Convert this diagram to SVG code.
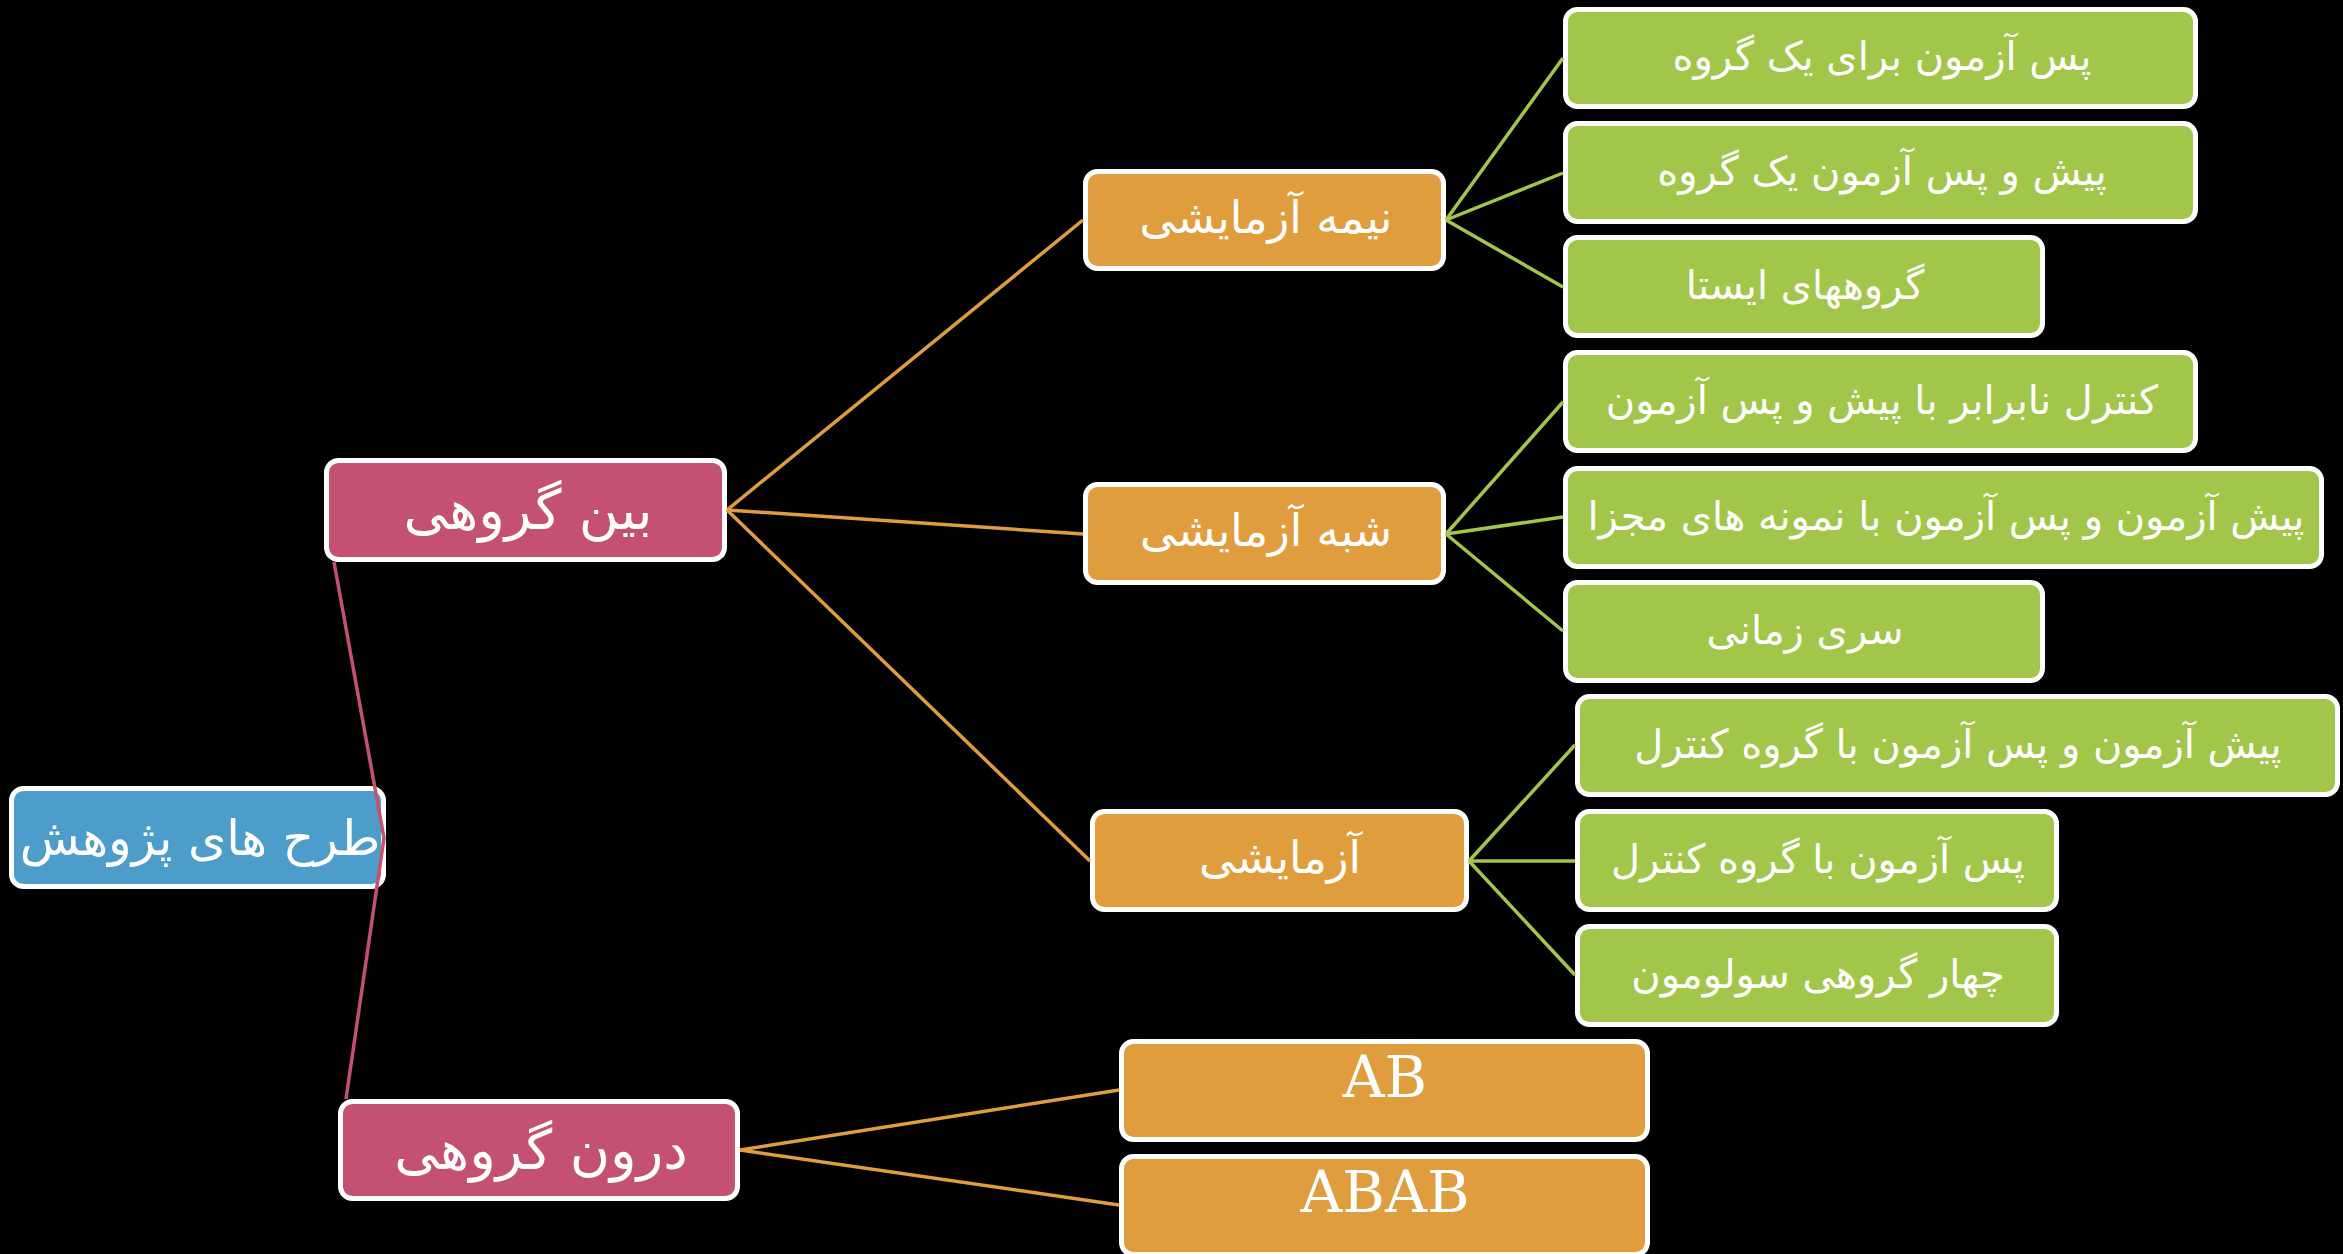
<svg xmlns="http://www.w3.org/2000/svg" width="2343" height="1254" viewBox="0 0 2343 1254">
<style>
.box{stroke:#ffffff;stroke-width:5}
.blue{fill:#4D9DCB}
.pink{fill:#C45171}
.orange{fill:#DF9D3E}
.green{fill:#A1C64A}
.t{fill:#ffffff;font-family:"DejaVu Sans","Noto Sans",sans-serif;text-anchor:middle}
.tr{font-size:49px}
.tl{font-size:55px}
.tm{font-size:45px}
.ts{font-size:40px}
.lat{fill:#ffffff;font-family:"DejaVu Serif","Liberation Serif",serif;text-anchor:middle;font-size:58px}
.cp{stroke:#C45171;stroke-width:3.5;fill:none}
.co{stroke:#DF9D3E;stroke-width:3.5;fill:none}
.cg{stroke:#A1C64A;stroke-width:3.5;fill:none}
</style>
<rect width="2343" height="1254" fill="#000000"/>
<g id="n-root"><rect class="box blue" x="11.5" y="788.5" width="372" height="98" rx="12"/><text class="t tr" x="200" y="855">طرح های پژوهش</text></g>
<g id="n-bein"><rect class="box pink" x="326.5" y="460.5" width="398" height="99" rx="12"/><text class="t tl" x="528" y="529">بین گروهی</text></g>
<g id="n-daroon"><rect class="box pink" x="340.5" y="1101.5" width="397" height="97" rx="12"/><text class="t tl" x="541" y="1169">درون گروهی</text></g>
<g id="n-nimeh"><rect class="box orange" x="1085.5" y="171.5" width="358" height="97" rx="12"/><text class="t tm" x="1266" y="233">نیمه آزمایشی</text></g>
<g id="n-shebh"><rect class="box orange" x="1085.5" y="484.5" width="358" height="98" rx="12"/><text class="t tm" x="1266" y="546">شبه آزمایشی</text></g>
<g id="n-azmayeshi"><rect class="box orange" x="1092.5" y="811.5" width="374" height="98" rx="12"/><text class="t tm" x="1280" y="873">آزمایشی</text></g>
<g id="n-g1"><rect class="box green" x="1565.5" y="9.5" width="630" height="97" rx="12"/><text class="t ts" x="1882" y="70">پس آزمون برای یک گروه</text></g>
<g id="n-g2"><rect class="box green" x="1565.5" y="123.5" width="630" height="98" rx="12"/><text class="t ts" x="1882" y="185">پیش و پس آزمون یک گروه</text></g>
<g id="n-g3"><rect class="box green" x="1565.5" y="237.5" width="477" height="98" rx="12"/><text class="t ts" x="1805" y="299">گروههای ایستا</text></g>
<g id="n-g4"><rect class="box green" x="1565.5" y="352.5" width="630" height="98" rx="12"/><text class="t ts" x="1882" y="414">کنترل نابرابر با پیش و پس آزمون</text></g>
<g id="n-g5"><rect class="box green" x="1565.5" y="468.5" width="756" height="98" rx="12"/><text class="t ts" x="1946" y="530">پیش آزمون و پس آزمون با نمونه های مجزا</text></g>
<g id="n-g6"><rect class="box green" x="1565.5" y="582.5" width="477" height="98" rx="12"/><text class="t ts" x="1805" y="644">سری زمانی</text></g>
<g id="n-g7"><rect class="box green" x="1577.5" y="696.5" width="760" height="98" rx="12"/><text class="t ts" x="1958" y="758">پیش آزمون و پس آزمون با گروه کنترل</text></g>
<g id="n-g8"><rect class="box green" x="1577.5" y="811.5" width="479" height="98" rx="12"/><text class="t ts" x="1818" y="873">پس آزمون با گروه کنترل</text></g>
<g id="n-g9"><rect class="box green" x="1577.5" y="926.5" width="479" height="98" rx="12"/><text class="t ts" x="1818" y="988">چهار گروهی سولومون</text></g>
<g id="n-ab"><rect class="box orange" x="1121.5" y="1041.5" width="526" height="98" rx="12"/><text class="lat" x="1385" y="1097">AB</text></g>
<g id="n-abab"><rect class="box orange" x="1121.5" y="1156.5" width="526" height="98" rx="12"/><text class="lat" x="1385" y="1212">ABAB</text></g>
<g id="connectors">
<polyline class="cp" points="334,562 384,838 346,1099"/>
<line class="co" x1="727" y1="510" x2="1083" y2="220"/>
<line class="co" x1="727" y1="510" x2="1083" y2="534"/>
<line class="co" x1="727" y1="510" x2="1090" y2="861"/>
<line class="co" x1="740" y1="1150" x2="1119" y2="1090"/>
<line class="co" x1="740" y1="1150" x2="1119" y2="1205"/>
<line class="cg" x1="1446" y1="220" x2="1563" y2="58"/>
<line class="cg" x1="1446" y1="220" x2="1563" y2="173"/>
<line class="cg" x1="1446" y1="220" x2="1563" y2="287"/>
<line class="cg" x1="1446" y1="534" x2="1563" y2="402"/>
<line class="cg" x1="1446" y1="534" x2="1563" y2="517"/>
<line class="cg" x1="1446" y1="534" x2="1563" y2="631"/>
<line class="cg" x1="1469" y1="861" x2="1575" y2="745"/>
<line class="cg" x1="1469" y1="861" x2="1575" y2="861"/>
<line class="cg" x1="1469" y1="861" x2="1575" y2="975"/>
</g>
</svg>
